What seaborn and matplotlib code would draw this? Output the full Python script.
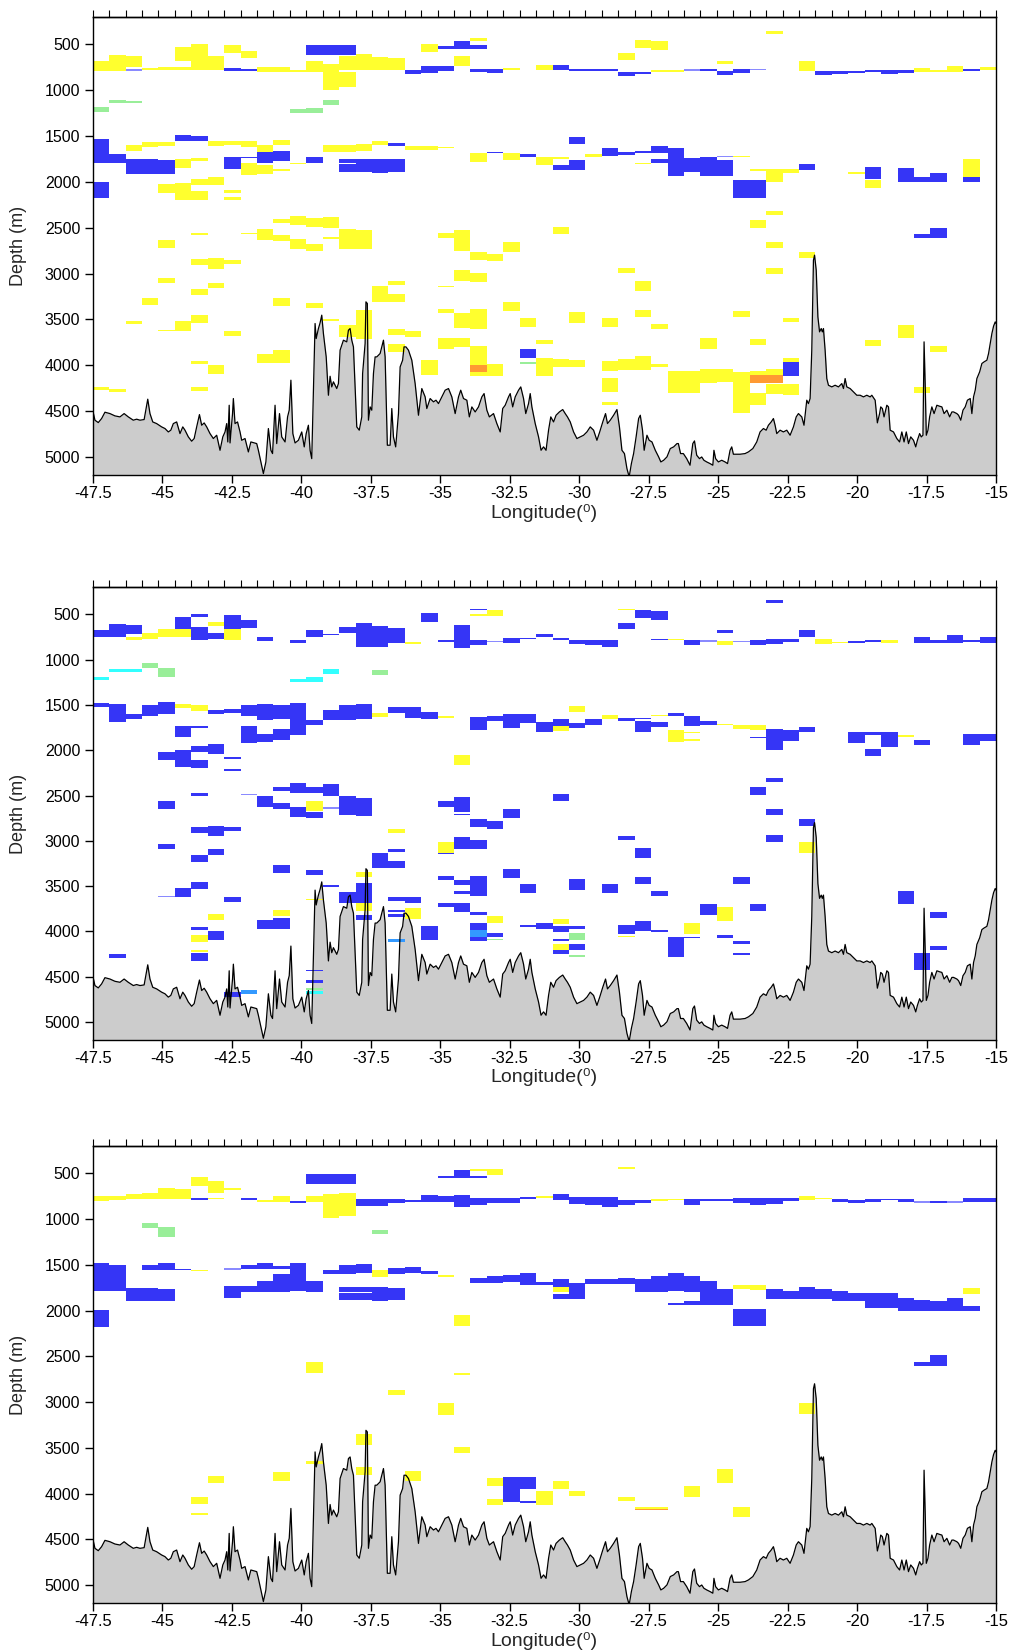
import numpy as np
import matplotlib
matplotlib.use("Agg")
import matplotlib.pyplot as plt
import seaborn as sns

# ---------------------------------------------------------------- data
# Station grid along the section (cell edges, one column per station)
lon_min, lon_max = -47.5, -15.0
n_stations = 55
x_ticks = [-47.5, -45, -42.5, -40, -37.5, -35, -32.5, -30, -27.5, -25, -22.5, -20, -17.5, -15]
x_ticklabels = ["-47.5", "-45", "-42.5", "-40", "-37.5", "-35", "-32.5", "-30", "-27.5",
                "-25", "-22.5", "-20", "-17.5", "-15"]
y_ticks = [500, 1000, 1500, 2000, 2500, 3000, 3500, 4000, 4500, 5000]

# Bottom topography along the section (longitude, depth in m)
bathy_lon = [
    -47.50, -47.42, -47.30, -47.18, -47.06, -46.88, -46.70, -46.52, -46.37, -46.22, -46.04, -45.92,
    -45.80, -45.65, -45.52, -45.44, -45.34, -45.20, -45.02, -44.90, -44.78, -44.69, -44.60, -44.48,
    -44.36, -44.26, -44.18, -44.06, -43.94, -43.85, -43.76, -43.66, -43.58, -43.49, -43.40, -43.28,
    -43.16, -43.04, -42.92, -42.82, -42.74, -42.68, -42.64, -42.59, -42.56, -42.47, -42.44, -42.38,
    -42.29, -42.20, -42.14, -42.02, -41.90, -41.81, -41.60, -41.54, -41.36, -41.27, -41.18, -41.09,
    -41.03, -40.94, -40.88, -40.78, -40.70, -40.58, -40.49, -40.43, -40.37, -40.30, -40.22, -40.10,
    -39.98, -39.89, -39.82, -39.74, -39.68, -39.62, -39.50, -39.46, -39.38, -39.32, -39.26, -39.20,
    -39.10, -39.02, -38.96, -38.90, -38.84, -38.72, -38.66, -38.60, -38.48, -38.36, -38.30, -38.24,
    -38.18, -38.12, -38.00, -37.91, -37.82, -37.79, -37.70, -37.67, -37.62, -37.58, -37.52, -37.46,
    -37.40, -37.34, -37.28, -37.16, -37.04, -36.98, -36.90, -36.80, -36.74, -36.68, -36.60, -36.50,
    -36.44, -36.35, -36.30, -36.23, -36.14, -36.02, -35.90, -35.78, -35.66, -35.54, -35.48, -35.36,
    -35.24, -35.15, -35.06, -34.94, -34.82, -34.70, -34.58, -34.46, -34.34, -34.26, -34.16, -34.04,
    -33.95, -33.86, -33.74, -33.62, -33.50, -33.42, -33.32, -33.23, -33.08, -32.96, -32.84, -32.75,
    -32.66, -32.54, -32.48, -32.39, -32.30, -32.18, -32.10, -32.00, -31.92, -31.82, -31.76, -31.70,
    -31.58, -31.46, -31.37, -31.28, -31.19, -31.10, -31.02, -30.92, -30.83, -30.71, -30.59, -30.50,
    -30.42, -30.32, -30.20, -30.08, -29.96, -29.84, -29.72, -29.60, -29.48, -29.36, -29.26, -29.15,
    -29.05, -28.98, -28.88, -28.76, -28.64, -28.55, -28.46, -28.37, -28.28, -28.20, -28.12, -28.04,
    -27.95, -27.86, -27.80, -27.72, -27.66, -27.56, -27.48, -27.38, -27.26, -27.14, -27.06, -26.96,
    -26.84, -26.72, -26.60, -26.48, -26.43, -26.35, -26.25, -26.13, -26.01, -25.91, -25.85, -25.77,
    -25.67, -25.59, -25.51, -25.41, -25.29, -25.19, -25.15, -25.09, -24.99, -24.87, -24.75, -24.66,
    -24.57, -24.51, -24.45, -24.21, -24.03, -23.91, -23.75, -23.61, -23.49, -23.37, -23.27, -23.19,
    -23.09, -23.01, -22.95, -22.89, -22.77, -22.65, -22.53, -22.41, -22.29, -22.19, -22.11, -21.99,
    -21.91, -21.81, -21.75, -21.69, -21.63, -21.57, -21.53, -21.47, -21.41, -21.35, -21.29, -21.25,
    -21.21, -21.15, -21.09, -21.03, -20.91, -20.79, -20.67, -20.55, -20.49, -20.43, -20.37, -20.25,
    -20.13, -20.01, -19.89, -19.77, -19.65, -19.53, -19.47, -19.35, -19.27, -19.19, -19.15, -19.09,
    -19.03, -18.93, -18.87, -18.81, -18.69, -18.57, -18.47, -18.39, -18.31, -18.23, -18.15, -18.07,
    -17.97, -17.89, -17.83, -17.75, -17.69, -17.63, -17.59, -17.55, -17.51, -17.45, -17.39, -17.31,
    -17.23, -17.13, -17.03, -16.95, -16.87, -16.77, -16.67, -16.59, -16.53, -16.41, -16.35, -16.27,
    -16.19, -16.11, -16.03, -15.93, -15.87, -15.81, -15.75, -15.69, -15.59, -15.51, -15.43, -15.33,
    -15.27, -15.21, -15.15, -15.09, -15.03, -15.00,
]
bathy_depth = [
    4490, 4599, 4625, 4581, 4512, 4527, 4552, 4563, 4527, 4563, 4599, 4588,
    4599, 4592, 4370, 4527, 4618, 4636, 4672, 4690, 4727, 4708, 4636, 4618,
    4745, 4672, 4708, 4781, 4828, 4799, 4672, 4538, 4654, 4629, 4672, 4745,
    4799, 4763, 4927, 4781, 4727, 4636, 4836, 4436, 4847, 4527, 4363, 4636,
    4618, 4727, 4818, 4799, 4945, 4836, 4854, 4927, 5181, 5054, 4690, 4927,
    4963, 4436, 4854, 4527, 4781, 4836, 4563, 4490, 4163, 4745, 4847, 4818,
    4727, 4890, 4745, 4654, 4927, 5018, 3545, 3709, 3600, 3538, 3454, 3654,
    3909, 4327, 4120, 4236, 4181, 4254, 4200, 3836, 3727, 3745, 3618, 3600,
    3727, 3800, 4672, 4708, 4563, 4091, 3763, 3309, 3327, 4599, 4454, 4490,
    4091, 3909, 3909, 3872, 3727, 3909, 4872, 4872, 4472, 4781, 4890, 4527,
    4018, 3945, 3800, 3800, 3836, 3945, 4200, 4545, 4254, 4345, 4472, 4363,
    4399, 4381, 4418, 4345, 4272, 4254, 4345, 4527, 4345, 4272, 4363, 4381,
    4563, 4454, 4509, 4454, 4345, 4309, 4490, 4563, 4527, 4636, 4727, 4472,
    4436, 4345, 4309, 4454, 4345, 4272, 4236, 4363, 4527, 4418, 4309, 4454,
    4636, 4781, 4927, 4890, 4927, 4708, 4563, 4618, 4545, 4509, 4483, 4527,
    4563, 4618, 4727, 4799, 4781, 4763, 4727, 4672, 4708, 4818, 4727, 4618,
    4527, 4636, 4599, 4545, 4483, 4672, 4927, 4963, 5127, 5217, 5072, 4963,
    4781, 4581, 4545, 4708, 4927, 4763, 4818, 4836, 4927, 4999, 5054, 5036,
    4999, 4908, 4890, 4854, 4854, 4963, 4963, 5018, 5090, 4854, 4825, 4981,
    5018, 5000, 5036, 5054, 5072, 5090, 4927, 5018, 5054, 5036, 5054, 5072,
    4927, 4890, 4970, 4970, 4963, 4945, 4908, 4836, 4727, 4690, 4708, 4654,
    4618, 4581, 4654, 4745, 4708, 4727, 4708, 4763, 4672, 4563, 4527, 4563,
    4654, 4381, 4418, 4363, 3836, 2855, 2800, 2964, 3473, 3636, 3600, 3636,
    3600, 3836, 4145, 4218, 4236, 4218, 4236, 4200, 4254, 4145, 4236, 4254,
    4290, 4327, 4327, 4345, 4327, 4345, 4327, 4381, 4628, 4527, 4454, 4472,
    4563, 4436, 4454, 4708, 4727, 4799, 4836, 4727, 4836, 4727, 4854, 4781,
    4818, 4890, 4818, 4745, 4781, 4763, 3745, 4200, 4763, 4708, 4563, 4454,
    4527, 4436, 4447, 4454, 4527, 4490, 4563, 4509, 4509, 4527, 4545, 4599,
    4490, 4454, 4381, 4363, 4527, 4345, 4272, 4145, 4072, 3981, 3963, 3945,
    3872, 3763, 3654, 3574, 3527, 3545,
]

# Flagged cells per section: (station, top depth, bottom depth, class)
# classes: y yellow, b blue, l pale blue, a azure, g green, c cyan, o orange
cells_upper = [
    (0, 685, 795, 'y'), (1, 615, 795, 'y'), (2, 625, 750, 'y'), (2, 770, 795, 'l'),
    (3, 762, 780, 'y'), (4, 751, 776, 'y'), (5, 530, 680, 'y'), (5, 751, 776, 'y'),
    (6, 500, 780, 'y'), (7, 630, 780, 'y'), (8, 505, 600, 'y'), (8, 762, 787, 'b'),
    (9, 570, 650, 'y'), (9, 769, 795, 'b'), (10, 751, 805, 'y'), (11, 751, 805, 'y'),
    (12, 776, 805, 'y'), (13, 505, 615, 'b'), (13, 680, 805, 'y'), (14, 505, 615, 'b'),
    (14, 715, 995, 'y'), (15, 505, 615, 'b'), (15, 630, 780, 'y'), (15, 800, 970, 'y'),
    (16, 605, 780, 'y'), (17, 635, 780, 'y'), (18, 650, 780, 'y'), (19, 780, 830, 'b'),
    (20, 495, 585, 'y'), (20, 740, 815, 'b'), (21, 525, 550, 'b'), (21, 740, 795, 'b'),
    (22, 465, 550, 'b'), (22, 625, 740, 'y'), (23, 435, 470, 'y'), (23, 505, 550, 'b'),
    (23, 770, 798, 'b'), (24, 770, 815, 'b'), (25, 762, 776, 'y'), (27, 722, 776, 'y'),
    (28, 722, 776, 'b'), (29, 765, 790, 'b'), (30, 765, 795, 'b'), (31, 765, 795, 'b'),
    (32, 600, 670, 'y'), (32, 798, 852, 'b'), (33, 455, 545, 'y'), (33, 798, 830, 'b'),
    (34, 465, 560, 'y'), (34, 776, 800, 'y'), (35, 780, 798, 'y'), (36, 770, 790, 'l'),
    (37, 775, 795, 'b'), (38, 680, 715, 'y'), (38, 787, 838, 'b'), (39, 770, 815, 'b'),
    (40, 765, 782, 'l'), (41, 355, 385, 'y'), (43, 680, 790, 'y'), (44, 787, 838, 'b'),
    (45, 787, 825, 'b'), (46, 787, 810, 'b'), (47, 776, 800, 'b'), (48, 780, 825, 'b'),
    (49, 780, 810, 'b'), (50, 758, 808, 'y'), (51, 782, 808, 'y'), (52, 736, 805, 'y'),
    (53, 765, 795, 'b'), (54, 745, 776, 'y'),
    (0, 1190, 1235, 'g'), (1, 1105, 1145, 'g'), (2, 1115, 1145, 'g'), (12, 1210, 1250, 'g'),
    (13, 1195, 1250, 'g'), (14, 1105, 1160, 'g'),
    (0, 1530, 1800, 'b'), (0, 2000, 2180, 'b'), (1, 1700, 1800, 'b'), (2, 1595, 1665, 'y'),
    (2, 1750, 1910, 'b'), (3, 1565, 1625, 'y'), (3, 1750, 1910, 'b'), (4, 1565, 1610, 'y'),
    (4, 1758, 1910, 'b'), (4, 2025, 2120, 'y'), (5, 1495, 1560, 'b'), (5, 1750, 1850, 'y'),
    (5, 2010, 2195, 'y'), (6, 1500, 1560, 'b'), (6, 1736, 1770, 'y'), (6, 1965, 2040, 'y'),
    (6, 2105, 2200, 'y'), (7, 1555, 1605, 'y'), (7, 1945, 2040, 'y'), (8, 1550, 1600, 'y'),
    (8, 1732, 1856, 'b'), (8, 2085, 2120, 'y'), (8, 2170, 2195, 'y'), (9, 1550, 1625, 'y'),
    (9, 1730, 1742, 'b'), (9, 1800, 1930, 'y'), (10, 1595, 1680, 'y'), (10, 1680, 1800, 'b'),
    (10, 1820, 1915, 'y'), (11, 1545, 1600, 'y'), (11, 1660, 1770, 'b'), (11, 1865, 1885, 'y'),
    (12, 1790, 1810, 'y'), (13, 1730, 1795, 'b'), (14, 1595, 1680, 'y'), (15, 1595, 1680, 'y'),
    (15, 1750, 1795, 'b'), (15, 1810, 1890, 'b'), (16, 1590, 1660, 'y'), (16, 1750, 1890, 'b'),
    (17, 1560, 1595, 'y'), (17, 1750, 1900, 'b'), (18, 1580, 1605, 'b'), (18, 1750, 1890, 'b'),
    (19, 1605, 1650, 'y'), (20, 1605, 1655, 'y'), (21, 1620, 1632, 'y'), (23, 1690, 1780, 'y'),
    (24, 1675, 1688, 'b'), (25, 1690, 1765, 'y'), (26, 1700, 1727, 'b'), (27, 1730, 1815, 'y'),
    (28, 1735, 1750, 'y'), (28, 1815, 1870, 'b'), (29, 1515, 1585, 'b'), (29, 1765, 1870, 'b'),
    (30, 1700, 1727, 'y'), (31, 1630, 1720, 'b'), (32, 1680, 1705, 'b'), (33, 1660, 1685, 'b'),
    (33, 1790, 1805, 'y'), (34, 1612, 1690, 'b'), (34, 1750, 1790, 'b'), (35, 1630, 1940, 'b'),
    (36, 1736, 1890, 'b'), (37, 1725, 1940, 'b'), (38, 1715, 1730, 'l'), (38, 1765, 1940, 'b'),
    (39, 1720, 1735, 'y'), (39, 1985, 2175, 'b'), (40, 1865, 1878, 'y'), (40, 1985, 2175, 'b'),
    (41, 1865, 2000, 'y'), (42, 1865, 1900, 'y'), (43, 1810, 1870, 'b'), (46, 1890, 1920, 'y'),
    (47, 1840, 1975, 'b'), (47, 1985, 2070, 'y'), (49, 1850, 2005, 'b'), (50, 1950, 2005, 'b'),
    (51, 1905, 2005, 'b'), (53, 1750, 1945, 'y'), (53, 1950, 2005, 'b'),
    (4, 2640, 2720, 'y'), (6, 2553, 2580, 'y'), (9, 2553, 2565, 'y'), (10, 2515, 2630, 'y'),
    (11, 2410, 2450, 'y'), (11, 2580, 2650, 'y'), (12, 2375, 2475, 'y'), (12, 2625, 2730, 'y'),
    (13, 2400, 2495, 'y'), (13, 2675, 2750, 'y'), (14, 2380, 2505, 'y'), (14, 2600, 2625, 'y'),
    (15, 2515, 2730, 'y'), (16, 2530, 2730, 'y'), (21, 2560, 2615, 'y'), (22, 2530, 2750, 'y'),
    (25, 2655, 2760, 'y'), (28, 2490, 2570, 'y'), (40, 2415, 2500, 'y'), (41, 2315, 2360, 'y'),
    (41, 2655, 2720, 'y'), (50, 2570, 2610, 'b'), (51, 2505, 2610, 'b'),
    (0, 4240, 4265, 'y'), (1, 4258, 4290, 'y'), (2, 3523, 3553, 'y'), (3, 3262, 3338, 'y'),
    (4, 3044, 3098, 'y'), (4, 3618, 3629, 'y'), (5, 3523, 3629, 'y'), (6, 2847, 2909, 'y'),
    (6, 3164, 3236, 'y'), (6, 3454, 3534, 'y'), (6, 3956, 3989, 'y'), (6, 4236, 4283, 'y'),
    (7, 2833, 2949, 'y'), (7, 3098, 3153, 'y'), (7, 4000, 4098, 'y'), (8, 2855, 2891, 'y'),
    (8, 3629, 3680, 'y'), (10, 3880, 3971, 'y'), (11, 3265, 3356, 'y'), (11, 3829, 3971, 'y'),
    (13, 3320, 3371, 'y'), (14, 3498, 3516, 'y'), (15, 3563, 3690, 'y'), (16, 3400, 3709, 'y'),
    (17, 3131, 3309, 'y'), (18, 3087, 3124, 'y'), (18, 3218, 3309, 'y'), (18, 3607, 3672, 'y'),
    (18, 3771, 3854, 'y'), (19, 3625, 3690, 'y'), (20, 3945, 4109, 'y'), (21, 3131, 3145, 'y'),
    (21, 3389, 3429, 'y'), (21, 3698, 3822, 'y'), (22, 2960, 3087, 'y'), (22, 3429, 3593, 'y'),
    (22, 3698, 3800, 'y'), (23, 2764, 2855, 'y'), (23, 2993, 3095, 'y'), (23, 3389, 3607, 'y'),
    (23, 3792, 4000, 'y'), (23, 4000, 4072, 'o'), (23, 4072, 4116, 'y'), (24, 2782, 2862, 'y'),
    (24, 3989, 4116, 'y'), (25, 3313, 3411, 'y'), (26, 3480, 3582, 'y'), (26, 3825, 3916, 'b'),
    (26, 3963, 3981, 'g'), (27, 3720, 3763, 'y'), (27, 3916, 4116, 'y'), (28, 3927, 4018, 'y'),
    (29, 3422, 3538, 'y'), (29, 3945, 4018, 'y'), (31, 3480, 3582, 'y'), (31, 3956, 4061, 'y'),
    (31, 4138, 4290, 'y'), (31, 4403, 4429, 'y'), (32, 2942, 2996, 'y'), (32, 3927, 4047, 'y'),
    (33, 3080, 3189, 'y'), (33, 3396, 3473, 'y'), (33, 3894, 4054, 'y'), (34, 3553, 3607, 'y'),
    (34, 3981, 4018, 'y'), (35, 4065, 4301, 'y'), (36, 4065, 4301, 'y'), (37, 3702, 3822, 'y'),
    (37, 4043, 4192, 'y'), (38, 4043, 4180, 'y'), (39, 3407, 3473, 'y'), (39, 4076, 4519, 'y'),
    (40, 3709, 3774, 'y'), (40, 4061, 4109, 'y'), (40, 4109, 4192, 'o'), (40, 4301, 4436, 'y'),
    (41, 2938, 3000, 'y'), (41, 4036, 4101, 'y'), (41, 4101, 4192, 'o'), (41, 4200, 4316, 'y'),
    (42, 3480, 3527, 'y'), (42, 3920, 3963, 'y'), (42, 3963, 4116, 'b'), (42, 4200, 4327, 'y'),
    (43, 2764, 2836, 'y'), (47, 3727, 3792, 'y'), (49, 3556, 3698, 'y'), (50, 4240, 4301, 'y'),
    (51, 3792, 3854, 'y'),
]

cells_middle = [
    (0, 673, 747, 'b'), (1, 611, 747, 'b'), (2, 622, 721, 'b'), (2, 747, 788, 'y'),
    (3, 710, 769, 'y'), (4, 659, 747, 'y'), (5, 526, 666, 'b'), (5, 666, 747, 'y'),
    (6, 500, 530, 'b'), (6, 637, 784, 'b'), (7, 581, 633, 'y'), (7, 710, 766, 'b'),
    (8, 511, 659, 'b'), (8, 659, 784, 'y'), (9, 566, 648, 'b'), (10, 747, 795, 'b'),
    (12, 777, 821, 'b'), (13, 673, 747, 'b'), (14, 715, 725, 'b'), (15, 637, 710, 'b'),
    (16, 600, 858, 'b'), (17, 629, 858, 'b'), (18, 648, 821, 'b'), (19, 806, 828, 'y'),
    (20, 489, 581, 'b'), (21, 784, 806, 'b'), (22, 618, 869, 'b'), (23, 437, 456, 'b'),
    (23, 493, 522, 'y'), (23, 788, 836, 'b'), (24, 452, 522, 'y'), (24, 790, 808, 'l'),
    (25, 755, 821, 'b'), (26, 760, 775, 'b'), (27, 721, 751, 'b'), (28, 763, 782, 'b'),
    (29, 777, 832, 'b'), (30, 788, 840, 'b'), (31, 788, 858, 'b'), (32, 437, 456, 'y'),
    (32, 600, 666, 'b'), (33, 452, 544, 'b'), (34, 463, 563, 'b'), (34, 770, 782, 'b'),
    (35, 770, 784, 'y'), (36, 782, 840, 'b'), (37, 784, 800, 'l'), (38, 673, 710, 'b'),
    (38, 799, 836, 'y'), (39, 795, 810, 'l'), (40, 777, 840, 'b'), (41, 345, 378, 'b'),
    (41, 769, 832, 'b'), (42, 769, 806, 'b'), (43, 673, 747, 'b'), (44, 766, 832, 'y'),
    (45, 806, 818, 'y'), (46, 795, 815, 'b'), (47, 788, 808, 'b'), (48, 784, 821, 'y'),
    (50, 747, 814, 'b'), (51, 784, 821, 'b'), (52, 732, 821, 'b'), (53, 784, 800, 'b'),
    (54, 747, 814, 'b'),
    (0, 1186, 1227, 'c'), (1, 1101, 1138, 'c'), (2, 1105, 1138, 'c'), (3, 1035, 1090, 'g'),
    (4, 1087, 1194, 'g'), (12, 1208, 1249, 'c'), (13, 1194, 1249, 'c'), (14, 1098, 1157, 'c'),
    (17, 1116, 1164, 'g'),
    (0, 1478, 1526, 'b'), (1, 1489, 1692, 'b'), (2, 1596, 1655, 'b'), (3, 1496, 1618, 'b'),
    (4, 1470, 1600, 'b'), (5, 1489, 1537, 'y'), (5, 1736, 1854, 'b'), (6, 1500, 1563, 'y'),
    (6, 1729, 1755, 'b'), (7, 1552, 1600, 'b'), (8, 1541, 1589, 'b'), (9, 1500, 1618, 'b'),
    (9, 1736, 1921, 'b'), (10, 1485, 1662, 'b'), (10, 1817, 1913, 'b'), (11, 1504, 1655, 'b'),
    (11, 1762, 1884, 'b'), (12, 1478, 1836, 'b'), (13, 1670, 1725, 'b'), (14, 1559, 1670, 'b'),
    (15, 1500, 1670, 'b'), (16, 1489, 1655, 'b'), (17, 1585, 1629, 'y'), (18, 1526, 1585, 'b'),
    (19, 1522, 1648, 'b'), (20, 1574, 1659, 'b'), (21, 1625, 1648, 'y'), (23, 1637, 1780, 'b'),
    (24, 1618, 1677, 'b'), (25, 1603, 1758, 'b'), (26, 1596, 1700, 'b'), (27, 1685, 1803, 'b'),
    (28, 1651, 1736, 'b'), (28, 1736, 1792, 'y'), (29, 1507, 1581, 'y'), (29, 1699, 1758, 'b'),
    (30, 1651, 1725, 'b'), (31, 1614, 1651, 'y'), (32, 1640, 1677, 'b'), (33, 1640, 1652, 'b'),
    (33, 1677, 1795, 'b'), (34, 1610, 1625, 'y'), (34, 1688, 1747, 'b'), (35, 1588, 1622, 'b'),
    (35, 1780, 1913, 'y'), (36, 1618, 1729, 'b'), (36, 1795, 1815, 'y'), (36, 1880, 1895, 'y'),
    (37, 1681, 1721, 'b'), (38, 1710, 1722, 'y'), (39, 1725, 1762, 'y'), (40, 1725, 1780, 'y'),
    (40, 1850, 1862, 'b'), (41, 1762, 2002, 'b'), (42, 1780, 1902, 'b'), (43, 1743, 1803, 'b'),
    (46, 1799, 1921, 'b'), (47, 1799, 1836, 'b'), (47, 1983, 2068, 'b'), (48, 1799, 1965, 'b'),
    (49, 1835, 1850, 'y'), (50, 1884, 1946, 'b'), (53, 1817, 1939, 'b'), (54, 1817, 1902, 'b'),
    (4, 2024, 2105, 'b'), (5, 2002, 2186, 'b'), (6, 1950, 2024, 'b'), (6, 2105, 2197, 'b'),
    (7, 1935, 2039, 'b'), (8, 2080, 2100, 'b'), (8, 2205, 2225, 'b'), (22, 2050, 2160, 'y'),
    (4, 2566, 2651, 'b'), (6, 2474, 2504, 'b'), (9, 2480, 2495, 'l'), (10, 2504, 2622, 'b'),
    (11, 2408, 2445, 'b'), (11, 2585, 2651, 'b'), (12, 2360, 2474, 'b'), (12, 2629, 2732, 'b'),
    (13, 2408, 2474, 'b'), (13, 2559, 2666, 'y'), (13, 2677, 2744, 'b'), (14, 2371, 2504, 'b'),
    (14, 2630, 2645, 'l'), (15, 2504, 2714, 'b'), (16, 2530, 2725, 'b'), (21, 2559, 2622, 'b'),
    (22, 2518, 2681, 'b'), (22, 2700, 2720, 'b'), (23, 2755, 2851, 'b'), (24, 2777, 2865, 'b'),
    (25, 2651, 2744, 'b'), (28, 2485, 2566, 'b'), (40, 2408, 2496, 'b'), (41, 2312, 2356, 'b'),
    (41, 2651, 2718, 'b'), (41, 2939, 3009, 'b'), (43, 2755, 2836, 'b'), (43, 3013, 3131, 'y'),
    (6, 2843, 2910, 'b'), (7, 2832, 2946, 'b'), (8, 2850, 2887, 'b'), (4, 3039, 3094, 'b'),
    (6, 3160, 3234, 'b'), (7, 3094, 3153, 'b'), (18, 2873, 2917, 'y'), (21, 3013, 3131, 'y'),
    (21, 3131, 3145, 'b'), (22, 2961, 3087, 'b'), (23, 2991, 3094, 'b'), (18, 3094, 3127, 'b'),
    (18, 3223, 3301, 'b'), (32, 2943, 2994, 'b'), (33, 3079, 3190, 'b'), (39, 3404, 3478, 'b'),
    (11, 3267, 3352, 'b'), (13, 3323, 3378, 'b'), (17, 3131, 3304, 'b'), (16, 3349, 3404, 'y'),
    (6, 3452, 3537, 'b'), (5, 3526, 3618, 'b'), (4, 3610, 3625, 'l'), (8, 3625, 3677, 'b'),
    (13, 3640, 3658, 'y'), (14, 3490, 3508, 'b'), (15, 3563, 3684, 'b'), (16, 3463, 3692, 'b'),
    (16, 3692, 3777, 'y'), (16, 3821, 3876, 'b'), (18, 3618, 3662, 'b'), (18, 3760, 3785, 'b'),
    (18, 3810, 3840, 'b'), (19, 3625, 3692, 'b'), (19, 3747, 3865, 'y'), (21, 3389, 3430, 'b'),
    (22, 3437, 3489, 'b'), (22, 3552, 3592, 'b'), (23, 3389, 3607, 'b'), (25, 3312, 3408, 'b'),
    (26, 3478, 3581, 'b'), (29, 3426, 3544, 'b'), (31, 3478, 3581, 'b'), (33, 3397, 3478, 'b'),
    (34, 3552, 3607, 'b'), (21, 3692, 3736, 'b'), (22, 3692, 3791, 'b'), (23, 3784, 3825, 'b'),
    (37, 3695, 3817, 'b'), (38, 3729, 3884, 'y'), (40, 3695, 3773, 'b'), (49, 3552, 3699, 'b'),
    (51, 3791, 3858, 'b'),
    (7, 3810, 3876, 'y'), (6, 3950, 3987, 'b'), (6, 4042, 4116, 'y'), (6, 4201, 4227, 'y'),
    (6, 4238, 4330, 'b'), (7, 3998, 4098, 'b'), (10, 3876, 3969, 'b'), (11, 3766, 3832, 'y'),
    (11, 3858, 3969, 'b'), (1, 4256, 4293, 'b'), (13, 4422, 4440, 'b'), (13, 4541, 4570, 'b'),
    (13, 4622, 4650, 'g'), (13, 4659, 4688, 'c'), (8, 4670, 4725, 'b'), (9, 4644, 4688, 'a'),
    (18, 4090, 4120, 'a'), (24, 3832, 3913, 'y'), (26, 3935, 3950, 'b'), (27, 3913, 3969, 'b'),
    (28, 3869, 3921, 'y'), (28, 3943, 4006, 'b'), (28, 4085, 4105, 'b'), (28, 4142, 4201, 'y'),
    (28, 4208, 4253, 'b'), (29, 3943, 3976, 'b'), (29, 4016, 4098, 'g'), (29, 4142, 4208, 'b'),
    (29, 4260, 4282, 'g'), (23, 3906, 3987, 'b'), (23, 3987, 4061, 'a'), (23, 4061, 4105, 'b'),
    (24, 4016, 4061, 'b'), (24, 4085, 4100, 'g'), (32, 3932, 4032, 'b'), (32, 4050, 4065, 'y'),
    (33, 3887, 3994, 'b'), (34, 3980, 4013, 'b'), (35, 4061, 4282, 'b'), (36, 3913, 4032, 'y'),
    (36, 4060, 4075, 'b'), (20, 3943, 4098, 'b'), (38, 4042, 4079, 'b'), (39, 4109, 4142, 'b'),
    (39, 4245, 4260, 'b'), (50, 4238, 4423, 'b'), (51, 4160, 4208, 'b'),
]

cells_lower = [
    (0, 748, 799, 'y'), (1, 748, 788, 'y'), (2, 726, 777, 'y'), (3, 715, 777, 'y'),
    (4, 657, 777, 'y'), (5, 675, 777, 'y'), (6, 537, 639, 'y'), (6, 774, 792, 'b'),
    (7, 584, 712, 'y'), (7, 770, 780, 'y'), (8, 664, 686, 'y'), (9, 770, 792, 'b'),
    (10, 792, 810, 'y'), (11, 752, 810, 'y'), (12, 803, 825, 'b'), (13, 507, 613, 'b'),
    (13, 748, 810, 'y'), (14, 507, 613, 'b'), (14, 726, 989, 'y'), (15, 507, 613, 'b'),
    (15, 712, 967, 'y'), (16, 781, 861, 'b'), (17, 781, 861, 'b'), (18, 781, 825, 'b'),
    (19, 788, 817, 'b'), (20, 741, 810, 'b'), (21, 526, 547, 'b'), (21, 748, 810, 'b'),
    (22, 460, 547, 'b'), (22, 737, 869, 'b'), (23, 453, 471, 'y'), (23, 526, 547, 'b'),
    (23, 766, 843, 'b'), (24, 453, 515, 'y'), (24, 770, 825, 'b'), (25, 770, 825, 'b'),
    (26, 763, 778, 'b'), (27, 748, 770, 'y'), (28, 726, 788, 'b'), (29, 759, 832, 'b'),
    (30, 759, 847, 'b'), (31, 759, 865, 'b'), (32, 431, 453, 'y'), (32, 796, 847, 'b'),
    (33, 796, 825, 'b'), (34, 781, 800, 'y'), (35, 777, 796, 'y'), (36, 781, 847, 'b'),
    (37, 785, 807, 'b'), (38, 785, 807, 'b'), (39, 766, 825, 'b'), (40, 766, 847, 'b'),
    (41, 766, 832, 'b'), (42, 766, 806, 'b'), (43, 752, 788, 'y'), (44, 766, 785, 'y'),
    (45, 785, 814, 'b'), (46, 792, 828, 'b'), (47, 777, 817, 'b'), (48, 777, 792, 'b'),
    (49, 781, 810, 'b'), (50, 800, 822, 'l'), (51, 807, 828, 'b'), (52, 807, 822, 'l'),
    (53, 766, 817, 'b'), (54, 766, 817, 'b'),
    (3, 1040, 1095, 'g'), (4, 1088, 1194, 'g'), (17, 1124, 1168, 'g'),
    (0, 1475, 1788, 'b'), (0, 1997, 2179, 'b'), (1, 1497, 1788, 'b'), (2, 1748, 1898, 'b'),
    (3, 1504, 1559, 'b'), (3, 1748, 1898, 'b'), (4, 1475, 1559, 'b'), (4, 1759, 1898, 'b'),
    (5, 1540, 1559, 'b'), (6, 1551, 1562, 'y'), (8, 1529, 1551, 'l'), (8, 1730, 1862, 'b'),
    (9, 1504, 1548, 'b'), (9, 1730, 1796, 'b'), (10, 1482, 1548, 'b'), (10, 1675, 1796, 'b'),
    (11, 1515, 1540, 'b'), (11, 1595, 1796, 'b'), (12, 1482, 1788, 'b'), (13, 1672, 1792, 'b'),
    (14, 1555, 1595, 'b'), (15, 1504, 1595, 'b'), (15, 1745, 1796, 'b'), (15, 1803, 1887, 'b'),
    (16, 1493, 1591, 'b'), (16, 1745, 1796, 'b'), (16, 1803, 1887, 'b'), (17, 1559, 1631, 'y'),
    (17, 1745, 1894, 'b'), (18, 1533, 1602, 'b'), (18, 1752, 1883, 'b'), (19, 1518, 1591, 'b'),
    (20, 1570, 1600, 'b'), (21, 1606, 1631, 'y'), (23, 1642, 1694, 'b'), (24, 1621, 1694, 'b'),
    (25, 1606, 1686, 'b'), (26, 1591, 1723, 'b'), (27, 1686, 1723, 'b'), (28, 1650, 1741, 'b'),
    (28, 1741, 1796, 'y'), (28, 1821, 1876, 'b'), (29, 1697, 1876, 'b'), (30, 1650, 1708, 'b'),
    (31, 1650, 1705, 'b'), (32, 1639, 1708, 'b'), (33, 1650, 1796, 'b'), (34, 1621, 1796, 'b'),
    (35, 1584, 1785, 'b'), (35, 1913, 1942, 'b'), (36, 1624, 1796, 'b'), (36, 1898, 1935, 'b'),
    (37, 1675, 1942, 'b'), (38, 1759, 1942, 'b'), (39, 1723, 1767, 'y'), (39, 1986, 2172, 'b'),
    (40, 1723, 1778, 'y'), (40, 1986, 2172, 'b'), (41, 1767, 1869, 'b'), (42, 1785, 1869, 'b'),
    (43, 1745, 1869, 'b'), (44, 1759, 1869, 'b'), (45, 1781, 1891, 'b'), (46, 1803, 1894, 'b'),
    (47, 1803, 1967, 'b'), (48, 1803, 1967, 'b'), (49, 1858, 2004, 'b'), (50, 1880, 2004, 'b'),
    (51, 1898, 2004, 'b'), (52, 1865, 2004, 'b'), (53, 1748, 1821, 'y'), (53, 1953, 2004, 'b'),
    (13, 2559, 2683, 'y'), (18, 2873, 2927, 'y'), (16, 3347, 3467, 'y'), (16, 3705, 3796, 'y'),
    (13, 3646, 3679, 'y'), (11, 3767, 3862, 'y'), (7, 3811, 3884, 'y'), (6, 4041, 4117, 'y'),
    (6, 4208, 4230, 'y'), (22, 2051, 2168, 'y'), (22, 2683, 2708, 'y'), (22, 3493, 3555, 'y'),
    (21, 3011, 3139, 'y'), (19, 3749, 3865, 'y'), (24, 3832, 3920, 'y'), (24, 4062, 4121, 'y'),
    (25, 3822, 4095, 'b'), (26, 3822, 3949, 'b'), (26, 4080, 4105, 'b'), (27, 3967, 4121, 'y'),
    (28, 3865, 3949, 'y'), (29, 3967, 4022, 'y'), (32, 4033, 4077, 'y'), (33, 4146, 4165, 'y'),
    (33, 4165, 4178, 'o'), (34, 4150, 4168, 'y'), (34, 4168, 4180, 'o'), (36, 3913, 4040, 'y'),
    (50, 2562, 2606, 'b'), (51, 2489, 2606, 'b'), (43, 3011, 3128, 'y'), (38, 3730, 3887, 'y'),
    (39, 4143, 4252, 'y'),
]

class_colors = {
    'y': '#ffff2e', 'b': '#3535f6', 'l': '#8a8aff', 'a': '#3399ff',
    'g': '#99ee99', 'c': '#33ffff', 'o': '#ff9933',
}

# ---------------------------------------------------------------- style
sns.set_theme(style="white")
plt.rcParams['font.family'] = ['Liberation Sans', 'DejaVu Sans']
plt.rcParams['axes.linewidth'] = 1.0
plt.rcParams['axes.edgecolor'] = 'black'

edges = np.linspace(lon_min, lon_max, n_stations + 1)
step = edges[1] - edges[0]

fig = plt.figure(figsize=(10.10, 16.51), dpi=100)
axes_boxes = [
    (0.0918, 0.7121, 0.8944, 0.2778),
    (0.0918, 0.3701, 0.8944, 0.2742),
    (0.0918, 0.0289, 0.8944, 0.2770),
]


def draw_section(ax, cells):
    # seafloor
    ax.fill_between(bathy_lon, bathy_depth, 6000, color='#cccccc', lw=0, zorder=1)
    # flagged cells, one bar per station/depth interval
    st = np.array([c[0] for c in cells])
    top = np.array([c[1] for c in cells], float)
    bot = np.array([c[2] for c in cells], float)
    cols = [class_colors[c[3]] for c in cells]
    ax.bar(edges[st], bot - top, bottom=top, width=step, align='edge',
           color=cols, linewidth=0, zorder=2)
    sns.lineplot(x=bathy_lon, y=bathy_depth, ax=ax, color='black', lw=0.9,
                 sort=False, estimator=None, zorder=3)

    ax.set_xlim(lon_min, lon_max)
    ax.set_ylim(5200, 200)
    ax.set_xticks(x_ticks)
    ax.set_xticklabels(x_ticklabels, fontsize=12)
    ax.set_yticks(y_ticks)
    ax.set_yticklabels([str(v) for v in y_ticks], fontsize=11.5)
    ax.tick_params(axis='x', direction='out', length=6, width=1, pad=2, colors='black',
                   bottom=True, top=False)
    ax.tick_params(axis='y', direction='out', length=6, width=1, pad=3, colors='black',
                   left=True, right=False)
    for s in ax.spines.values():
        s.set_visible(True)
        s.set_color('black')

    top_ax = ax.secondary_xaxis('top')
    top_ax.set_xticks(edges)
    top_ax.set_xticklabels([])
    top_ax.tick_params(direction='out', length=5, width=0.8, colors='black')

    ax.set_xlabel('Longitude(\u2070)', fontsize=14)
    ax.set_ylabel('Depth (m)', fontsize=13)
    ax.xaxis.set_label_coords(0.5, -0.063)
    ax.yaxis.set_label_coords(-0.073, 0.5)


for box, cells in zip(axes_boxes, [cells_upper, cells_middle, cells_lower]):
    ax = fig.add_axes(box)
    draw_section(ax, cells)

fig.savefig('out.png', dpi=100, facecolor='white')
